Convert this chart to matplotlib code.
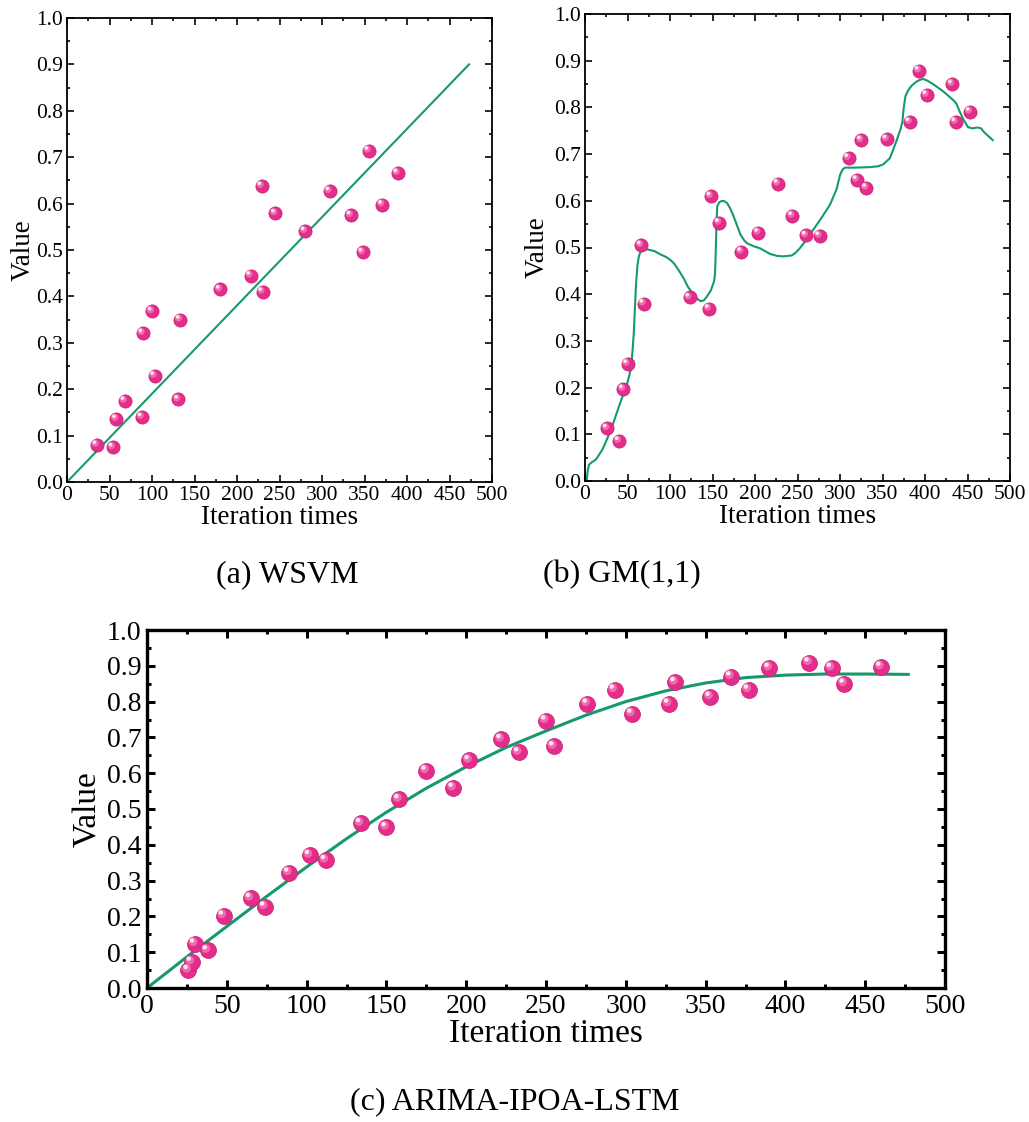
import matplotlib
matplotlib.use("Agg")
import matplotlib.pyplot as plt
from matplotlib.ticker import MultipleLocator, FormatStrFormatter
from matplotlib.transforms import offset_copy

plt.rcParams['font.family'] = ['Liberation Serif', 'DejaVu Serif']
plt.rcParams['mathtext.fontset'] = 'stix'

# ---------------- data ----------------
# (a) WSVM
wsvm_x = [35, 54, 58, 68, 88, 89, 100, 103, 131, 133, 180, 216, 229, 230, 245, 280, 309, 334, 348, 355, 371, 389]
wsvm_y = [0.080, 0.075, 0.136, 0.175, 0.140, 0.321, 0.368, 0.229, 0.178, 0.350, 0.415, 0.445,
          0.638, 0.410, 0.579, 0.541, 0.627, 0.575, 0.495, 0.714, 0.598, 0.666]
wsvm_line_x = [0, 473]
wsvm_line_y = [0.0, 0.90]

# (b) GM(1,1)
gm_x = [26, 40, 45, 50, 66, 69, 123, 146, 148, 158, 184, 204, 227, 244, 260, 276, 310, 320,
        325, 331, 355, 382, 393, 402, 432, 436, 453]
gm_y = [0.113, 0.086, 0.197, 0.251, 0.505, 0.380, 0.393, 0.369, 0.610, 0.553, 0.491, 0.532,
        0.637, 0.568, 0.526, 0.525, 0.692, 0.645, 0.730, 0.628, 0.732, 0.769, 0.879, 0.827,
        0.850, 0.769, 0.791]
gm_line_x = [2, 3, 4.7, 8, 12.9, 20.7, 30.5, 40.2, 50, 54, 55.9, 57.5, 58.6, 60, 61.7, 63.5, 65.6,
             69, 73.4, 82, 89, 95, 100, 104.7, 110, 116.4, 121, 126.2, 132, 136, 140, 143.8, 148,
             151.6, 152.8, 153.5, 154.5, 155.5, 158, 161.3, 164, 167.2, 171, 175, 182.8, 187,
             190.6, 198, 206.3, 212, 218, 226, 233.6, 243.4, 248, 253, 259, 265, 276.6, 288.3,
             296, 300, 303, 305.9, 315.6, 335, 345, 350.8, 358.6, 366.4, 371, 373.4, 375, 377,
             380, 384, 389.8, 394, 397.7, 403, 409.4, 421, 433, 437, 440.6, 445, 450.4, 455.5,
             462, 466, 470, 479.7]
gm_line_y = [0.0, 0.020, 0.035, 0.040, 0.046, 0.068, 0.109, 0.161, 0.211, 0.240, 0.278, 0.320, 0.366,
             0.420, 0.462, 0.482, 0.492, 0.495, 0.496, 0.492, 0.485, 0.480, 0.474, 0.466, 0.452,
             0.433, 0.416, 0.403, 0.390, 0.385, 0.387, 0.396, 0.408, 0.426, 0.440, 0.470, 0.540,
             0.588, 0.597, 0.600, 0.599, 0.595, 0.583, 0.566, 0.528, 0.516, 0.509, 0.503, 0.498,
             0.492, 0.486, 0.482, 0.481, 0.483, 0.489, 0.499, 0.513, 0.529, 0.559, 0.592, 0.625,
             0.655, 0.667, 0.671, 0.671, 0.672, 0.674, 0.678, 0.691, 0.728, 0.752, 0.769, 0.800,
             0.824, 0.836, 0.846, 0.855, 0.859, 0.861, 0.857, 0.850, 0.835, 0.816, 0.808, 0.792,
             0.775, 0.758, 0.755, 0.757, 0.755, 0.746, 0.730]

# (c) ARIMA-IPOA-LSTM
al_x = [26, 28, 30, 38, 48, 65, 74, 89, 102, 112, 134, 150, 158, 175, 192, 202, 222, 233,
        250, 255, 276, 293, 304, 327, 331, 353, 366, 377, 390, 415, 429, 437, 460]
al_y = [0.050, 0.073, 0.124, 0.105, 0.202, 0.251, 0.227, 0.322, 0.371, 0.357, 0.460, 0.449,
        0.527, 0.607, 0.559, 0.636, 0.695, 0.658, 0.747, 0.675, 0.794, 0.833, 0.766, 0.794,
        0.854, 0.813, 0.870, 0.833, 0.894, 0.909, 0.894, 0.850, 0.897]
al_line_x = [0, 25, 50, 75, 100, 125, 150, 175, 200, 225, 250, 275, 300, 325, 350, 375, 400,
             425, 450, 477]
al_line_y = [0.0, 0.087, 0.172, 0.256, 0.338, 0.417, 0.491, 0.558, 0.618, 0.672, 0.718, 0.762,
             0.800, 0.830, 0.852, 0.867, 0.874, 0.877, 0.877, 0.876]

captions = ["(a) WSVM", "(b) GM(1,1)", "(c) ARIMA-IPOA-LSTM"]
x_ticks = [0, 50, 100, 150, 200, 250, 300, 350, 400, 450, 500]
y_ticks = [0.0, 0.1, 0.2, 0.3, 0.4, 0.5, 0.6, 0.7, 0.8, 0.9, 1.0]

PINK = '#E42C8A'
GREEN = '#16996C'

W, H = 1029, 1122
fig = plt.figure(figsize=(W / 100, H / 100), dpi=100)


def add_ax(l, t, r, b):
    return fig.add_axes([l / W, 1 - b / H, (r - l) / W, (b - t) / H])


def style(ax, tick_fs, label_fs, spine_w, maj_len, ylabelpad, pad):
    ax.set_xlim(0, 500)
    ax.set_ylim(0, 1.0)
    ax.set_xticks(x_ticks)
    ax.set_yticks(y_ticks)
    ax.xaxis.set_minor_locator(MultipleLocator(25))
    ax.yaxis.set_minor_locator(MultipleLocator(0.05))
    ax.yaxis.set_major_formatter(FormatStrFormatter('%.1f'))
    ax.tick_params(which='both', direction='in', top=True, right=True, width=spine_w * 0.9)
    ax.tick_params(which='major', length=maj_len, labelsize=tick_fs, pad=pad)
    ax.tick_params(which='minor', length=maj_len * 0.5)
    for s in ax.spines.values():
        s.set_linewidth(spine_w)
    ax.set_xlabel('Iteration times', fontsize=label_fs, labelpad=0)
    ax.set_ylabel('Value', fontsize=label_fs, labelpad=ylabelpad)


def spheres(ax, xs, ys, d_pt):
    ax.scatter(xs, ys, s=d_pt ** 2, color=PINK, edgecolors='#C81F74', linewidths=0.5, zorder=3)
    ax.scatter(xs, ys, s=(d_pt * 0.55) ** 2, color='#F06AAE', edgecolors='none', zorder=4,
               transform=offset_copy(ax.transData, fig=fig, x=-d_pt * 0.12, y=d_pt * 0.12, units='points'))
    ax.scatter(xs, ys, s=(d_pt * 0.28) ** 2, color='#FFE6F2', edgecolors='none', zorder=5,
               transform=offset_copy(ax.transData, fig=fig, x=-d_pt * 0.18, y=d_pt * 0.2, units='points'))


# (a)
ax1 = add_ax(67, 18, 492, 482)
ax1.plot(wsvm_line_x, wsvm_line_y, color=GREEN, lw=1.5, zorder=2)
spheres(ax1, wsvm_x, wsvm_y, 9.5)
style(ax1, 15.5, 19.5, 1.3, 5, 0, 3)

# (b)
ax2 = add_ax(585, 14, 1010, 481)
ax2.plot(gm_line_x, gm_line_y, color=GREEN, lw=1.5, zorder=2)
spheres(ax2, gm_x, gm_y, 9.5)
style(ax2, 15.5, 19.5, 1.3, 5, 3, 3)

# (c)
ax3 = add_ax(147, 630, 945, 988)
ax3.plot(al_line_x, al_line_y, color=GREEN, lw=2.2, zorder=2)
spheres(ax3, al_x, al_y, 11.5)
style(ax3, 20, 24, 2.4, 6, 3, 4)

fig.text(287 / W, 1 - 575 / H, captions[0], fontsize=23, ha='center', va='center')
fig.text(622 / W, 1 - 575 / H, captions[1], fontsize=23, ha='center', va='center')
fig.text(515 / W, 1 - 1102 / H, captions[2], fontsize=23, ha='center', va='center')

fig.savefig('out.png', dpi=100)
